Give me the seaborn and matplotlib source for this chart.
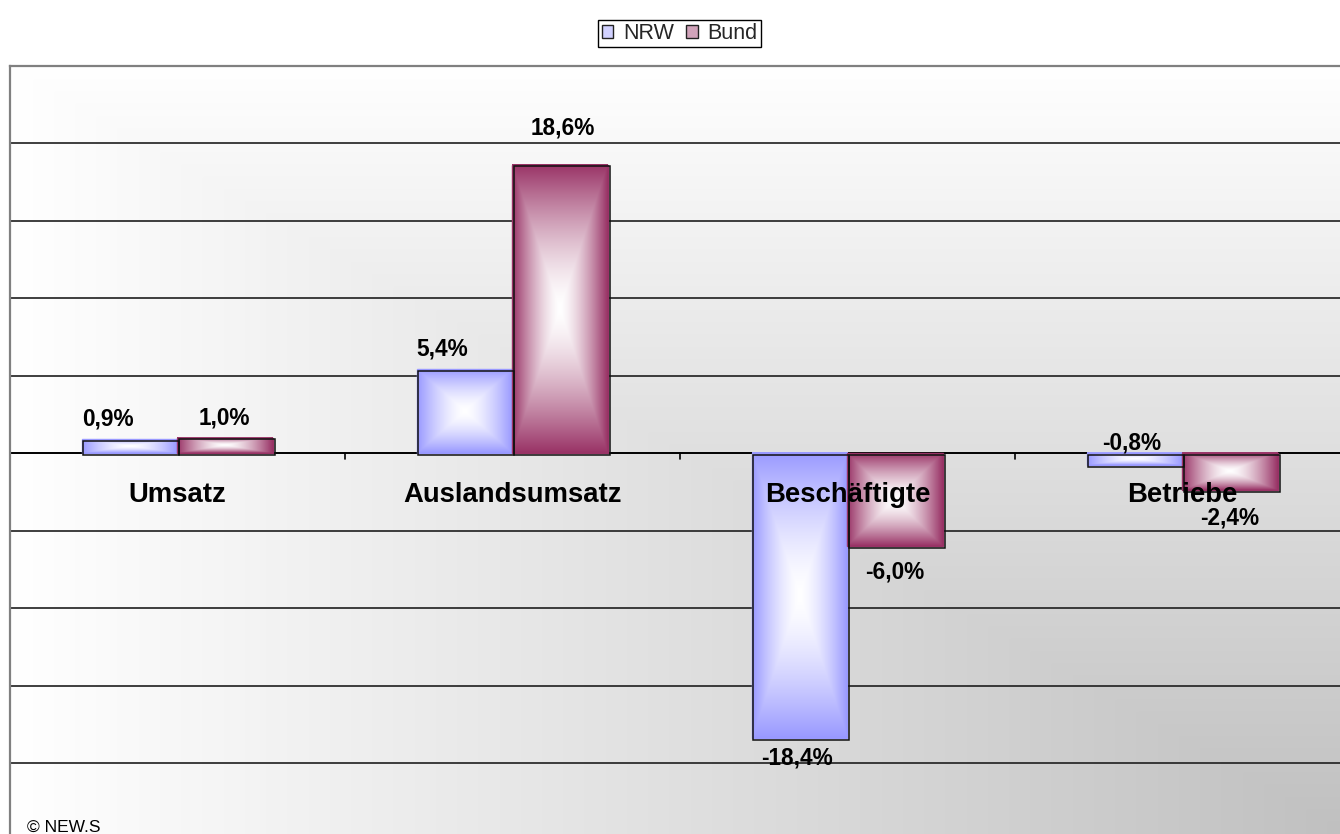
import numpy as np
import pandas as pd
import matplotlib
matplotlib.use("Agg")
import matplotlib.pyplot as plt
import seaborn as sns
from matplotlib.patches import Rectangle, Patch
from matplotlib.transforms import ScaledTranslation
from matplotlib.colors import to_rgb

# ---------------- data ----------------
categories = ["Umsatz", "Auslandsumsatz", "Beschäftigte", "Betriebe"]
series = ["NRW", "Bund"]
nrw_values = [0.9, 5.4, -18.4, -0.8]
bund_values = [1.0, 18.6, -6.0, -2.4]
nrw_labels = ["0,9%", "5,4%", "-18,4%", "-0,8%"]
bund_labels = ["1,0%", "18,6%", "-6,0%", "-2,4%"]
source_note = "© NEW.S"

# ---------------- style ----------------
colors = {"NRW": "#9999FF", "Bund": "#993366"}
# label placement relative to bar end: (dx px, baseline dy px, up positive)
label_offsets_px = {
    "NRW": [(-22, 14), (-22, 14), (-3, -26), (-3, 16)],
    "Bund": [(-1, 13), (2, 30), (-1, -32), (-1, -34)],
}
value_labels = {"NRW": nrw_labels, "Bund": bund_labels}

df = pd.DataFrame({
    "Kategorie": categories * 2,
    "Reihe": ["NRW"] * len(categories) + ["Bund"] * len(categories),
    "Wert": nrw_values + bund_values,
})

sns.set_theme(style="white")
plt.rcParams["font.family"] = ["Liberation Sans", "DejaVu Sans"]

W, H = 1340, 834
fig = plt.figure(figsize=(W / 100, H / 100), dpi=100)
fig.patch.set_facecolor("white")
ax = fig.add_axes([10 / W, 0, 1340 / W, (H - 66) / H])

PX = 0.72  # points per pixel at 100 dpi

# background gradient (from bottom-right corner)
u = np.linspace(0, 1, 500)[None, :]
v = np.linspace(0, 1, 400)[:, None]
t = np.minimum(u, v)
g = (255 - 63 * t) / 255.0
ax.imshow(np.dstack([g, g, g]), extent=(0, 1, 0, 1), transform=ax.transAxes,
          aspect="auto", zorder=-1, interpolation="bilinear")

sns.barplot(data=df, x="Kategorie", y="Wert", hue="Reihe", order=categories,
            hue_order=series, palette=colors, width=0.573, saturation=1,
            errorbar=None, legend=False, ax=ax)

shadow_tr = ax.transData + ScaledTranslation(1.5 / 100, -1.5 / 100, fig.dpi_scale_trans)

for cont, name in zip(ax.containers, series):
    base = np.array(to_rgb(colors[name]))
    for i, patch in enumerate(cont.patches):
        x0 = patch.get_x()
        w = patch.get_width()
        y0 = patch.get_y()
        h = patch.get_height()
        ylo, yhi = min(y0, y0 + h), max(y0, y0 + h)
        nx, ny = 120, 240
        dx = np.abs(np.linspace(-1, 1, nx))[None, :]
        dy = np.abs(np.linspace(-1, 1, ny))[:, None]
        tt = np.maximum(dx, dy) ** 1.5
        img = (1 - tt[..., None]) * np.ones(3) + tt[..., None] * base
        ax.imshow(img, extent=(x0, x0 + w, ylo, yhi), aspect="auto",
                  zorder=2, interpolation="bilinear")
        patch.set_facecolor("none")
        patch.set_edgecolor(base)
        patch.set_linewidth(1.0)
        patch.set_zorder(3)
        ax.add_patch(Rectangle((x0, ylo), w, yhi - ylo, transform=shadow_tr,
                               facecolor="none", edgecolor="#111111",
                               linewidth=1.1, zorder=3.5))
        # value label
        val = patch.get_height()
        odx, ody = label_offsets_px[name][i]
        ax.annotate(value_labels[name][i], (x0 + w / 2, val),
                    xytext=(odx * PX, ody * PX), textcoords="offset points",
                    ha="center", va="baseline", fontsize=16.3,
                    fontweight="bold", color="black", zorder=6)

# category labels
for i, cat in enumerate(categories):
    ax.annotate(cat, (i, 0), xytext=(0, -49 * PX), textcoords="offset points",
                ha="center", va="baseline", fontsize=19.8, fontweight="bold",
                color="black", zorder=6)

ax.set_xlim(-0.5, len(categories) - 0.5)
ax.set_ylim(-24.58, 24.97)
ax.set_yticks(np.arange(-20, 25, 5))
ax.yaxis.grid(True, color="#1e1e1e", linewidth=1.2)
ax.set_axisbelow(True)
ax.axhline(0, color="black", linewidth=1.3, zorder=1.5)
for b in np.arange(-0.5, len(categories) - 0.5, 1.0):
    ax.plot([b, b], [0, -0.39], color="black", linewidth=1.2, zorder=1.5)

ax.tick_params(left=False, bottom=False, labelleft=False, labelbottom=False)
ax.set_xlabel("")
ax.set_ylabel("")
for s in ["right", "bottom"]:
    ax.spines[s].set_visible(False)
for s in ["left", "top"]:
    ax.spines[s].set_color("#808080")
    ax.spines[s].set_linewidth(1.6)

# legend
def light(c, f=0.55):
    c = np.array(to_rgb(c))
    return tuple(c * (1 - f) + f)

handles = [Patch(facecolor=light(colors[n]), edgecolor="#222222", linewidth=1.0, label=n)
           for n in series]
leg = fig.legend(handles=handles, loc="center", ncol=2,
                 bbox_to_anchor=(679.5 / W, 1 - 33.5 / H), frameon=True,
                 fontsize=15.5, handlelength=0.55, handleheight=0.55,
                 handletextpad=0.45, columnspacing=0.55, borderpad=0.15,
                 borderaxespad=0, fancybox=False, edgecolor="black", framealpha=1)
leg.get_frame().set_linewidth(1.0)

fig.text(27 / W, (H - 832) / H, source_note, ha="left", va="baseline",
         fontsize=12.5, color="black")

fig.savefig("out.png", dpi=100)
